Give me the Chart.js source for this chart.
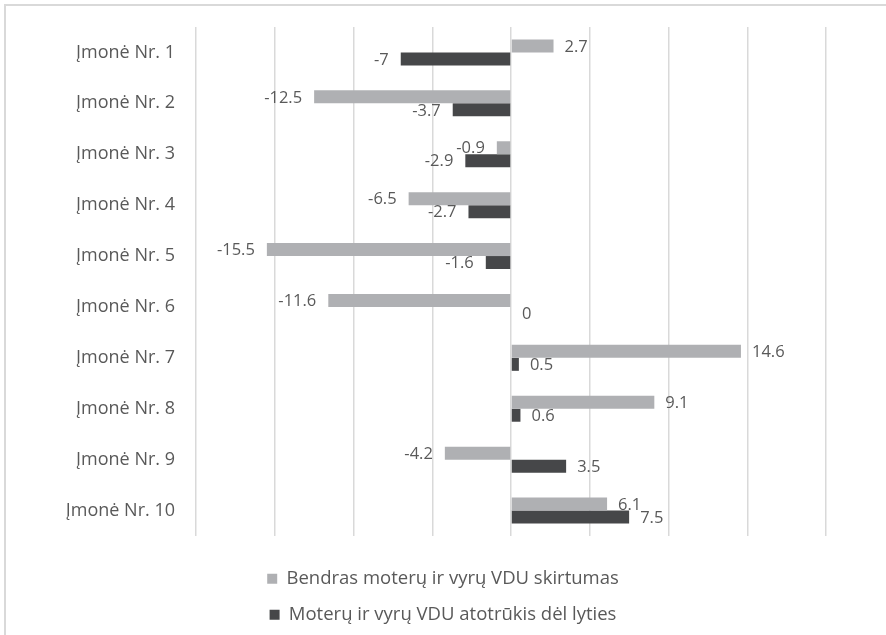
<!DOCTYPE html>
<html>
<head>
<meta charset="utf-8">
<script src="https://cdn.jsdelivr.net/npm/chart.js@4/dist/chart.umd.min.js"></script>
<style>
  html, body { margin: 0; padding: 0; background: #ffffff; }
  #wrap { width: 886px; height: 635px; position: relative; }
</style>
</head>
<body>
<div id="wrap"><canvas id="c" width="886" height="635"></canvas></div>
<script>
const categories = ['Įmonė Nr. 1', 'Įmonė Nr. 2', 'Įmonė Nr. 3', 'Įmonė Nr. 4', 'Įmonė Nr. 5',
                    'Įmonė Nr. 6', 'Įmonė Nr. 7', 'Įmonė Nr. 8', 'Įmonė Nr. 9', 'Įmonė Nr. 10'];
const seriesNames = ['Bendras moterų ir vyrų VDU skirtumas', 'Moterų ir vyrų VDU atotrūkis dėl lyties'];
const bendrasValues = [2.7, -12.5, -0.9, -6.5, -15.5, -11.6, 14.6, 9.1, -4.2, 6.1];
const atotrukisValues = [-7, -3.7, -2.9, -2.7, -1.6, 0, 0.5, 0.6, 3.5, 7.5];
const xMin = -20, xMax = 20, xStep = 5;

const FONT = "'Open Sans', 'Noto Sans', sans-serif";
const TEXT = '#595959';

const framePlugin = {
  id: 'frameBorder',
  beforeUpdate(chart) {
    // make the legend wrap its two items onto two rows
    const lg = chart.legend;
    if (lg && !lg._wrapPatched) {
      const orig = lg.update.bind(lg);
      lg.update = (maxWidth, maxHeight, margins) => orig(Math.min(maxWidth, 420), maxHeight, margins);
      lg._wrapPatched = true;
    }
  },
  afterLayout(chart) {
    // center the legend rows on the whole canvas width
    const lg = chart.legend;
    if (lg) { lg.left = 0; lg.right = chart.width; lg.width = chart.width; }
  },
  beforeDraw(chart) {
    const ctx = chart.ctx;
    ctx.save();
    ctx.fillStyle = '#ffffff';
    ctx.fillRect(0, 0, chart.width, chart.height);
    ctx.strokeStyle = '#d9d9d9';
    ctx.lineWidth = 2;
    ctx.strokeRect(5, 5, 2000, 2000);
    ctx.restore();
  }
};

const valueLabels = {
  id: 'valueLabels',
  afterDatasetsDraw(chart) {
    const ctx = chart.ctx;
    ctx.save();
    ctx.font = '16.5px ' + FONT;
    ctx.fillStyle = TEXT;
    ctx.textBaseline = 'middle';
    chart.data.datasets.forEach((ds, di) => {
      const meta = chart.getDatasetMeta(di);
      meta.data.forEach((bar, i) => {
        const v = ds.data[i];
        const neg = v < 0;
        ctx.textAlign = neg ? 'right' : 'left';
        const x = neg ? bar.x - 12 : bar.x + 11;
        ctx.fillText(String(v), x, bar.y + 1);
      });
    });
    ctx.restore();
  }
};

new Chart(document.getElementById('c'), {
  type: 'bar',
  data: {
    labels: categories,
    datasets: [
      { label: seriesNames[0], data: bendrasValues, backgroundColor: '#afb0b3',
        categoryPercentage: 0.51, barPercentage: 1.0 },
      { label: seriesNames[1], data: atotrukisValues, backgroundColor: '#464749',
        categoryPercentage: 0.51, barPercentage: 1.0 }
    ]
  },
  options: {
    indexAxis: 'y',
    responsive: false,
    animation: false,
    devicePixelRatio: 1,
    layout: { padding: { top: 27, right: 60, bottom: 1, left: 0 } },
    scales: {
      x: {
        min: xMin, max: xMax,
        ticks: { display: false, stepSize: xStep },
        grid: { color: '#d9d9d9', lineWidth: 1.5, drawTicks: false },
        border: { display: false },
        afterFit(axis) { axis.height = 16; axis.paddingLeft = 0; axis.paddingRight = 0; }
      },
      y: {
        ticks: { color: TEXT, font: { family: FONT, size: 18 }, padding: 21 },
        grid: { display: false, drawTicks: false },
        border: { display: false },
        afterFit(axis) { axis.width = 196; axis.paddingTop = 0; axis.paddingBottom = 0; }
      }
    },
    plugins: {
      legend: {
        position: 'bottom',
        labels: {
          color: TEXT,
          font: { family: FONT, size: 18.5 },
          boxWidth: 10, boxHeight: 10,
          padding: 17.5
        }
      },
      tooltip: { enabled: false }
    }
  },
  plugins: [framePlugin, valueLabels]
});
</script>
</body>
</html>
